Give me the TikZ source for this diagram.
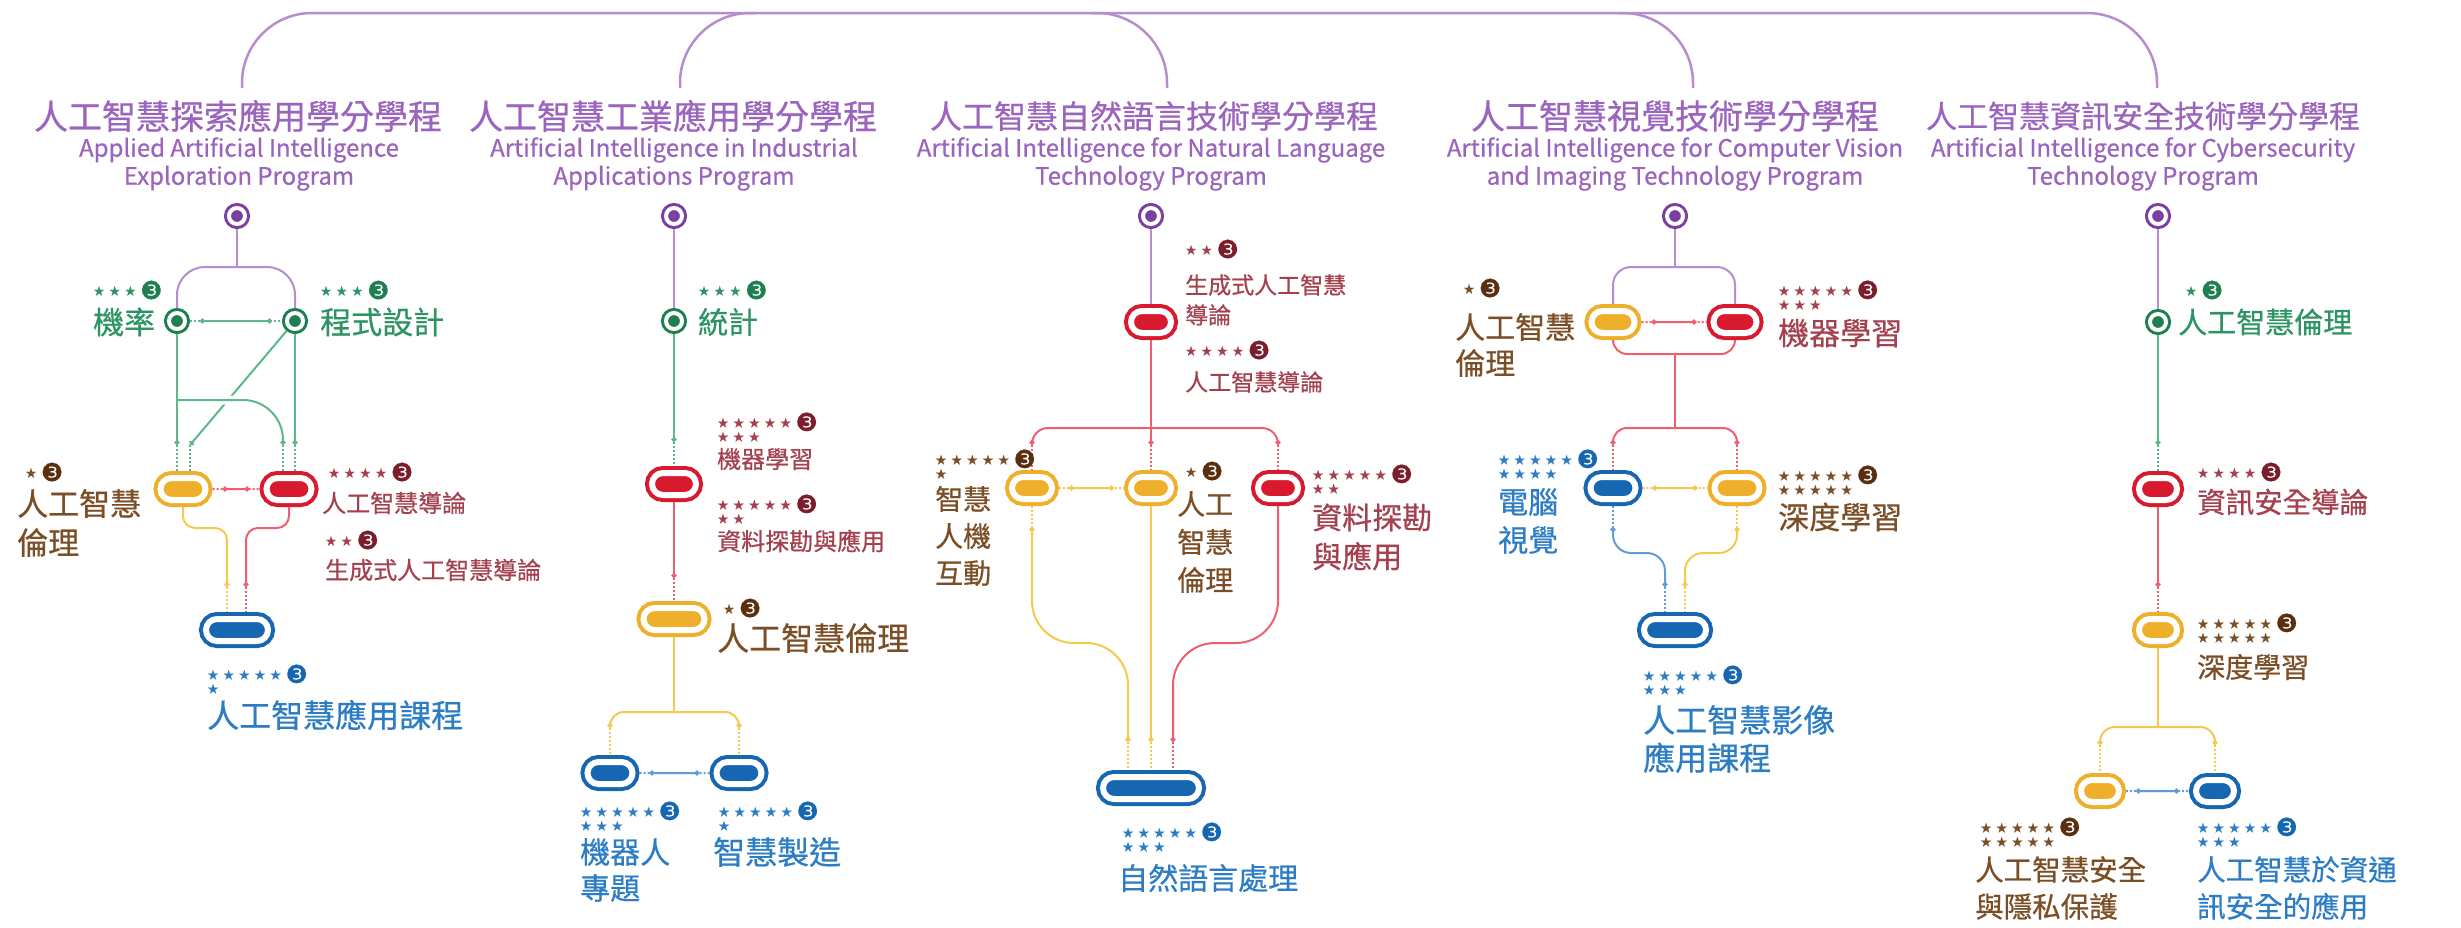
\documentclass[tikz,border=0pt]{standalone}
\usepackage{fontspec}
\setmainfont{Noto Sans CJK TC}[FakeBold=0.6]
\newfontfamily\starfont{DejaVu Sans}[FakeBold=0.4]
\usetikzlibrary{arrows.meta,shapes.misc,calc}

\definecolor{ttlc}{HTML}{9B64BD}
\definecolor{pur}{HTML}{7B3F9E}
\definecolor{purl}{HTML}{B68ECE}
\definecolor{grn}{HTML}{1F7F50}
\definecolor{grnl}{HTML}{5CB88A}
\definecolor{grnt}{HTML}{2E9464}
\definecolor{rd}{HTML}{D71A2D}
\definecolor{rdl}{HTML}{EE6070}
\definecolor{mar}{HTML}{A3414F}
\definecolor{mard}{HTML}{7A1E2B}
\definecolor{yl}{HTML}{EEB02A}
\definecolor{yll}{HTML}{F6C850}
\definecolor{brn}{HTML}{7B4E26}
\definecolor{brnd}{HTML}{5A2F10}
\definecolor{bl}{HTML}{1766B1}
\definecolor{bll}{HTML}{5E9DD8}
\definecolor{blt}{HTML}{2D7DC4}

\newcommand\sr{★\kern4pt}
\newcommand\badge[1]{\raisebox{-3.5pt}{\color{#1}\fontsize{25}{14}\selectfont ❸}}
\newcommand\sibling[3]{%
  \draw[drip=#1] (#2) -- (#3);
  \draw[wire=#1, {bead}-{bead}, shorten <=10pt, shorten >=10pt] (#2) -- (#3);}

\tikzset{
  bead/.tip={Circle[length=5pt]},
  wire/.style={line width=2pt, draw=#1},
  drip/.style={line width=2pt, draw=#1, dash pattern=on 2pt off 2pt},
  pill/.style 2 args={rounded rectangle, minimum height=22pt, minimum width=#2,
    inner sep=0pt, outer sep=7pt, fill=#1, draw=white, line width=6pt,
    preaction={draw=#1, line width=14pt}},
  station/.style={circle, minimum size=16pt, inner sep=0pt, outer sep=5pt,
    fill=#1, draw=white, line width=4pt, preaction={draw=#1, line width=10pt}},
  ttl/.style={inner sep=0pt, text=ttlc},
  eng/.style={inner sep=0pt, align=center, text=ttlc, font=\fontsize{24}{28}\selectfont},
  rate/.style={anchor=west, inner sep=0pt, align=left, text=#1,
    font=\starfont\fontsize{13}{14}\selectfont},
  lab/.style={anchor=west, inner sep=0pt, align=left, text=#1},
  fs/.style 2 args={font=\fontsize{#1}{#2}\selectfont}
}

\begin{document}
\begin{tikzpicture}[x=1pt, y=-1pt]
\useasboundingbox (0,0) rectangle (2461,927);

% titles and the top bus
\node[ttl, fs={34}{36}] (ti1) at (238,116) {人工智慧探索應用學分學程};
\node[eng] (en1) at (239,164) {Applied Artificial Intelligence\\Exploration Program};
\node[ttl, fs={34}{36}] (ti2) at (673,116) {人工智慧工業應用學分學程};
\node[eng] (en2) at (674,164) {Artificial Intelligence in Industrial\\Applications Program};
\node[ttl, fs={32}{36}] (ti3) at (1154,116) {人工智慧自然語言技術學分學程};
\node[eng] (en3) at (1151,164) {Artificial Intelligence for Natural Language\\Technology Program};
\node[ttl, fs={34}{36}] (ti4) at (1675,116) {人工智慧視覺技術學分學程};
\node[eng] (en4) at (1675,164) {Artificial Intelligence for Computer Vision\\and Imaging Technology Program};
\node[ttl, fs={31}{36}] (ti5) at (2143,116) {人工智慧資訊安全技術學分學程};
\node[eng] (en5) at (2143,164) {Artificial Intelligence for Cybersecurity\\Technology Program};

\coordinate (bus) at (0,13);
\coordinate (b1) at (242,88);
\coordinate (b2) at (680,88);
\coordinate (b3) at (1167,88);
\coordinate (b4) at (1693,88);
\coordinate (b5) at (2157,88);
\draw[wire=purl, line width=2.5pt, rounded corners=70pt] (b1) |- (bus -| b5) -- (b5);
\draw[wire=purl, line width=2.5pt, rounded corners=70pt] (b2) |- ($(b2 |- bus)+(75,0)$);
\draw[wire=purl, line width=2.5pt, rounded corners=70pt] (b3) |- ($(b3 |- bus)+(-75,0)$);
\draw[wire=purl, line width=2.5pt, rounded corners=70pt] (b4) |- ($(b4 |- bus)+(-75,0)$);

% exploration program
\node[station=pur] (P1) at (237,216) {};
\node[station=grn] (g1) at (177,321) {};
\node[station=grn] (g2) at (295,321) {};
\draw[wire=purl] (P1) -- (P1 |- 0,267);
\draw[wire=purl, rounded corners=28pt] (g1) |- (P1 |- 0,267) -| (g2);
\sibling{grnl}{g1}{g2}
\node[rate=grnt] (r1a) at (93,290) {\sr\sr\sr\badge{grn}};
\node[lab=grnt, fs={31}{37}] (l1a) at (93,322) {機率};
\node[rate=grnt] (r1b) at (320,290) {\sr\sr\sr\badge{grn}};
\node[lab=grnt, fs={31}{37}] (l1b) at (320,322) {程式設計};

\node[pill={yl}{45pt}] (Y1) at (183,489) {};
\node[pill={rd}{45pt}] (R1) at (289,489) {};
\coordinate (a1) at (177,445);
\coordinate (a2) at (190,445);
\coordinate (a3) at (283,445);
\coordinate (a4) at (295,445);
\draw[wire=grnl, -bead] (g2) -- (a2);
\draw[wire=grnl, -bead, rounded corners=40pt, preaction={draw=white, line width=9pt}] (g1 |- 0,400) -- (a3 |- 0,400) -- (a3);
\draw[wire=grnl, -bead] (g1) -- (a1);
\draw[wire=grnl, -bead] (g2) -- (a4);
\draw[drip=grnl] (a1) -- (a1 |- Y1.north);
\draw[drip=grnl] (a2) -- (a2 |- Y1.north);
\draw[drip=grnl] (a3) -- (a3 |- R1.north);
\draw[drip=grnl] (a4) -- (a4 |- R1.north);
\sibling{rdl}{Y1}{R1}
\node[rate=brn] (r1c) at (25,472) {\sr\badge{brnd}};
\node[lab=brn, fs={31}{39}] (l1c) at (17,523) {人工智慧\\倫理};
\node[rate=mar] (r1d) at (328,472) {\sr\sr\sr\sr\badge{mard}};
\node[lab=mar, fs={24}{30}] (l1d) at (322,503) {人工智慧導論};
\node[rate=mar] (r1e) at (325,540) {\sr\sr\badge{mard}};
\node[lab=mar, fs={24}{30}] (l1e) at (325,570) {生成式人工智慧導論};

\node[pill={bl}{62pt}] (B1) at (237,630) {};
\coordinate (a5) at (227,587);
\coordinate (a6) at (246,587);
\draw[wire=yll, -bead, rounded corners=12pt] (Y1) |- (a5 |- 0,528) -- (a5);
\draw[wire=rdl, -bead, rounded corners=12pt] (R1) |- (a6 |- 0,528) -- (a6);
\draw[drip=yll] (a5) -- (a5 |- B1.north);
\draw[drip=rdl] (a6) -- (a6 |- B1.north);
\node[rate=blt] (r1f) at (207,679) {\sr\sr\sr\sr\sr\badge{bl}\\\sr};
\node[lab=blt, fs={32}{38}] (l1f) at (207,715) {人工智慧應用課程};

% industrial applications program
\node[station=pur] (P2) at (674,216) {};
\node[station=grn] (g3) at (674,321) {};
\draw[wire=purl] (P2) -- (g3);
\node[rate=grnt] (r2a) at (698,290) {\sr\sr\sr\badge{grn}};
\node[lab=grnt, fs={30}{36}] (l2a) at (698,322) {統計};
\node[pill={rd}{44pt}] (R2) at (674,484) {};
\coordinate (a7) at (674,442);
\draw[wire=grnl, -bead] (g3) -- (a7);
\draw[drip=grnl] (a7) -- (R2);
\node[rate=mar] (r2b) at (717,427) {\sr\sr\sr\sr\sr\badge{mard}\\\sr\sr\sr};
\node[lab=mar, fs={24}{30}] (l2b) at (717,459) {機器學習};
\node[rate=mar] (r2c) at (717,509) {\sr\sr\sr\sr\sr\badge{mard}\\\sr\sr};
\node[lab=mar, fs={24}{30}] (l2c) at (717,541) {資料探勘與應用};
\node[pill={yl}{61pt}] (Y2) at (674,619) {};
\coordinate (a8) at (674,578);
\draw[wire=rdl, -bead] (R2) -- (a8);
\draw[drip=rdl] (a8) -- (Y2);
\node[rate=brn] (r2d) at (723,608) {\sr\badge{brnd}};
\node[lab=brn, fs={32}{38}] (l2d) at (717,638) {人工智慧倫理};
\node[pill={bl}{45pt}] (B2a) at (610,773) {};
\node[pill={bl}{45pt}] (B2b) at (739,773) {};
\coordinate (a9) at (610,728);
\coordinate (a10) at (739,728);
\draw[wire=yll] (Y2) -- (Y2 |- 0,712);
\draw[wire=yll, {bead}-{bead}, rounded corners=14pt] (a9) -- (a9 |- 0,712) -- (a10 |- 0,712) -- (a10);
\draw[drip=yll] (a9) -- (B2a);
\draw[drip=yll] (a10) -- (B2b);
\sibling{bll}{B2a}{B2b}
\node[rate=blt] (r2e) at (580,816) {\sr\sr\sr\sr\sr\badge{bl}\\\sr\sr\sr};
\node[lab=blt, fs={30}{36}] (l2e) at (580,870) {機器人\\專題};
\node[rate=blt] (r2f) at (718,816) {\sr\sr\sr\sr\sr\badge{bl}\\\sr};
\node[lab=blt, fs={32}{38}] (l2f) at (713,852) {智慧製造};

% natural language program
\node[station=pur] (P3) at (1151,216) {};
\node[pill={rd}{40pt}] (R3) at (1151,322) {};
\draw[wire=purl] (P3) -- (R3);
\node[rate=mar] (r3a) at (1185,249) {\sr\sr\badge{mard}};
\node[lab=mar, fs={23}{30}] (l3a) at (1185,300) {生成式人工智慧\\導論};
\node[rate=mar] (r3b) at (1185,350) {\sr\sr\sr\sr\badge{mard}};
\node[lab=mar, fs={23}{30}] (l3b) at (1185,382) {人工智慧導論};
\node[pill={yl}{40pt}] (Y3a) at (1032,488) {};
\node[pill={yl}{40pt}] (Y3b) at (1151,488) {};
\node[pill={rd}{40pt}] (R3b) at (1278,488) {};
\coordinate (a11) at (1032,445);
\coordinate (a12) at (1151,445);
\coordinate (a13) at (1278,445);
\draw[wire=rdl, -bead] (R3) -- (a12);
\draw[wire=rdl, {bead}-{bead}, rounded corners=16pt] (a11) -- (a11 |- 0,428) -- (a13 |- 0,428) -- (a13);
\draw[drip=rdl] (a11) -- (Y3a);
\draw[drip=rdl] (a12) -- (Y3b);
\draw[drip=rdl] (a13) -- (R3b);
\sibling{yll}{Y3a}{Y3b}
\node[rate=brn] (r3c) at (935,464) {\sr\sr\sr\sr\sr\badge{brnd}\\\sr};
\node[lab=brn, fs={28}{37}] (l3c) at (935,536) {智慧\\人機\\互動};
\node[rate=brn] (r3d) at (1185,471) {\sr\badge{brnd}};
\node[lab=brn, fs={28}{38}] (l3d) at (1177,542) {人工\\智慧\\倫理};
\node[rate=mar] (r3e) at (1312,479) {\sr\sr\sr\sr\sr\badge{mard}\\\sr\sr};
\node[lab=mar, fs={30}{39}] (l3e) at (1312,537) {資料探勘\\與應用};

\node[pill={bl}{96pt}] (B3) at (1151,788) {};
\coordinate (a14) at (1032,527);
\coordinate (a15) at (1128,742);
\coordinate (a16) at (1151,742);
\coordinate (a17) at (1173,742);
\draw[drip=yll] (Y3a) -- (a14);
\draw[wire=yll, {bead}-{bead}, rounded corners=42pt] (a14) -- (a14 |- 0,643) -- (a15 |- 0,643) -- (a15);
\draw[wire=yll, -bead] (Y3b) -- (a16);
\draw[wire=rdl, -bead, rounded corners=42pt] (R3b) -- (R3b |- 0,643) -- (a17 |- 0,643) -- (a17);
\draw[drip=yll] (a15) -- (a15 |- B3.north);
\draw[drip=yll] (a16) -- (B3);
\draw[drip=rdl] (a17) -- (a17 |- B3.north);
\node[rate=blt] (r3f) at (1122,837) {\sr\sr\sr\sr\sr\badge{bl}\\\sr\sr\sr};
\node[lab=blt, fs={30}{36}] (l3f) at (1118,878) {自然語言處理};

% computer vision program
\node[station=pur] (P4) at (1675,216) {};
\node[pill={yl}{43pt}] (Y4) at (1613,322) {};
\node[pill={rd}{43pt}] (R4) at (1735,322) {};
\draw[wire=purl] (P4) -- (P4 |- 0,267);
\draw[wire=purl, rounded corners=18pt] (Y4) |- (P4 |- 0,267) -| (R4);
\sibling{rdl}{Y4}{R4}
\coordinate (j4) at (1675,354);
\draw[wire=rdl, rounded corners=14pt] (Y4) |- (j4) -| (R4);
\coordinate (a18) at (1613,445);
\coordinate (a19) at (1737,445);
\draw[wire=rdl] (j4) -- (j4 |- 0,428);
\draw[wire=rdl, {bead}-{bead}, rounded corners=14pt] (a18) -- (a18 |- 0,428) -- (a19 |- 0,428) -- (a19);
\node[pill={bl}{45pt}] (B4a) at (1613,488) {};
\node[pill={yl}{45pt}] (Y4b) at (1737,488) {};
\draw[drip=rdl] (a18) -- (B4a);
\draw[drip=rdl] (a19) -- (Y4b);
\sibling{yll}{B4a}{Y4b}
\node[rate=brn] (r4a) at (1463,288) {\sr\badge{brnd}};
\node[lab=brn, fs={30}{36}] (l4a) at (1455,345) {人工智慧\\倫理};
\node[rate=mar] (r4b) at (1778,295) {\sr\sr\sr\sr\sr\badge{mard}\\\sr\sr\sr};
\node[lab=mar, fs={31}{37}] (l4b) at (1778,333) {機器學習};
\node[rate=blt] (r4c) at (1498,464) {\sr\sr\sr\sr\sr\badge{bl}\\\sr\sr\sr\sr};
\node[lab=blt, fs={30}{38}] (l4c) at (1498,521) {電腦\\視覺};
\node[rate=brn] (r4d) at (1778,480) {\sr\sr\sr\sr\sr\badge{brnd}\\\sr\sr\sr\sr\sr};
\node[lab=brn, fs={31}{37}] (l4d) at (1778,517) {深度學習};

\node[pill={bl}{62pt}] (B4) at (1675,630) {};
\coordinate (a20) at (1613,527);
\coordinate (a21) at (1665,587);
\coordinate (a22) at (1737,527);
\coordinate (a23) at (1685,587);
\draw[drip=bll] (B4a) -- (a20);
\draw[wire=bll, {bead}-{bead}, rounded corners=18pt] (a20) -- (a20 |- 0,553) -- (a21 |- 0,553) -- (a21);
\draw[drip=yll] (Y4b) -- (a22);
\draw[wire=yll, {bead}-{bead}, rounded corners=18pt] (a22) -- (a22 |- 0,553) -- (a23 |- 0,553) -- (a23);
\draw[drip=bll] (a21) -- (a21 |- B4.north);
\draw[drip=yll] (a23) -- (a23 |- B4.north);
\node[rate=blt] (r4e) at (1643,680) {\sr\sr\sr\sr\sr\badge{bl}\\\sr\sr\sr};
\node[lab=blt, fs={32}{38}] (l4e) at (1643,739) {人工智慧影像\\應用課程};

% cybersecurity program
\node[station=pur] (P5) at (2158,216) {};
\node[station=grn] (g5) at (2158,322) {};
\draw[wire=purl] (P5) -- (g5);
\node[rate=grnt] (r5a) at (2185,290) {\sr\badge{grn}};
\node[lab=grnt, fs={29}{36}] (l5a) at (2178,322) {人工智慧倫理};
\node[pill={rd}{38pt}] (R5) at (2158,489) {};
\coordinate (a24) at (2158,445);
\draw[wire=grnl, -bead] (g5) -- (a24);
\draw[drip=grnl] (a24) -- (R5);
\node[rate=mar] (r5b) at (2197,472) {\sr\sr\sr\sr\badge{mard}};
\node[lab=mar, fs={28.5}{36}] (l5b) at (2197,502) {資訊安全導論};
\node[pill={yl}{38pt}] (Y5) at (2158,630) {};
\coordinate (a25) at (2158,587);
\draw[wire=rdl, -bead] (R5) -- (a25);
\draw[drip=rdl] (a25) -- (Y5);
\node[rate=brn] (r5c) at (2197,628) {\sr\sr\sr\sr\sr\badge{brnd}\\\sr\sr\sr\sr\sr};
\node[lab=brn, fs={28}{36}] (l5c) at (2197,667) {深度學習};
\node[pill={yl}{38pt}] (Y5a) at (2100,791) {};
\node[pill={bl}{38pt}] (B5) at (2215,791) {};
\coordinate (a26) at (2100,745);
\coordinate (a27) at (2215,745);
\draw[wire=yll] (Y5) -- (Y5 |- 0,727);
\draw[wire=yll, {bead}-{bead}, rounded corners=15pt] (a26) -- (a26 |- 0,727) -- (a27 |- 0,727) -- (a27);
\draw[drip=yll] (a26) -- (Y5a);
\draw[drip=yll] (a27) -- (B5);
\sibling{bll}{Y5a}{B5}
\node[rate=brn] (r5d) at (1980,832) {\sr\sr\sr\sr\sr\badge{brnd}\\\sr\sr\sr\sr\sr};
\node[lab=brn, fs={28.5}{37}] (l5d) at (1975,888) {人工智慧安全\\與隱私保護};
\node[rate=blt] (r5e) at (2197,832) {\sr\sr\sr\sr\sr\badge{bl}\\\sr\sr\sr};
\node[lab=blt, fs={28.5}{37}] (l5e) at (2197,888) {人工智慧於資通\\訊安全的應用};
\end{tikzpicture}
\end{document}
